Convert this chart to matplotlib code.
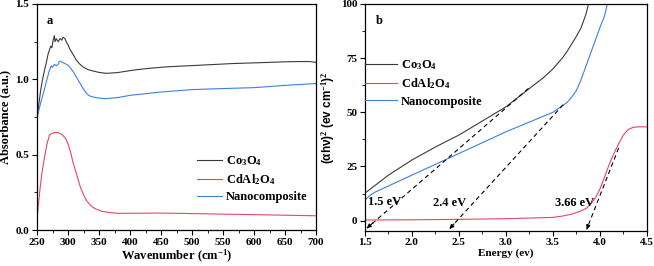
import matplotlib
matplotlib.use("Agg")
import matplotlib.pyplot as plt
from matplotlib.ticker import MultipleLocator

plt.rcParams['font.family'] = ['Liberation Serif', 'DejaVu Serif']
plt.rcParams['font.weight'] = 'bold'
plt.rcParams['mathtext.fontset'] = 'custom'
plt.rcParams['mathtext.rm'] = 'Liberation Serif:bold'
plt.rcParams['mathtext.it'] = 'Liberation Serif:bold'
plt.rcParams['mathtext.bf'] = 'Liberation Serif:bold'

# Panel a: absorbance vs wavenumber
wn_co = [250, 253, 256, 259, 262, 265, 268, 272, 274, 276, 278, 279, 281, 284, 287, 290, 292, 295, 297, 300, 303, 306, 309, 313, 318, 324, 332, 340, 350, 362, 380, 405, 430, 459, 513, 566, 620, 647, 670, 690, 701]
abs_co = [0.74, 0.84, 0.93, 1.0, 1.06, 1.11, 1.17, 1.22, 1.21, 1.26, 1.29, 1.25, 1.27, 1.25, 1.27, 1.26, 1.28, 1.27, 1.25, 1.23, 1.2, 1.18, 1.16, 1.13, 1.105, 1.083, 1.065, 1.056, 1.046, 1.04, 1.045, 1.061, 1.073, 1.083, 1.094, 1.105, 1.112, 1.116, 1.118, 1.118, 1.112]
wn_nano = [250, 255, 260, 266, 270, 273, 275, 278, 281, 284, 286, 288, 292, 295, 300, 305, 310, 315, 320, 325, 330, 335, 340, 350, 360, 380, 400, 450, 500, 550, 600, 650, 700]
abs_nano = [0.74, 0.83, 0.905, 1.0, 1.06, 1.09, 1.08, 1.1, 1.09, 1.1, 1.12, 1.12, 1.11, 1.105, 1.094, 1.07, 1.04, 1.005, 0.97, 0.935, 0.905, 0.89, 0.883, 0.876, 0.872, 0.879, 0.894, 0.916, 0.932, 0.939, 0.945, 0.96, 0.972]
wn_cd = [250, 252, 255, 258, 262, 266, 270, 275, 280, 285, 290, 296, 300, 304, 308, 312, 316, 320, 325, 330, 335, 340, 345, 355, 365, 380, 450, 550, 700]
abs_cd = [0.062, 0.16, 0.28, 0.38, 0.48, 0.57, 0.63, 0.643, 0.648, 0.645, 0.635, 0.61, 0.572, 0.52, 0.45, 0.395, 0.34, 0.284, 0.235, 0.195, 0.17, 0.151, 0.14, 0.124, 0.118, 0.111, 0.113, 0.106, 0.095]

# Panel b: Tauc plot
e_co = [1.5, 1.6, 1.75, 2.0, 2.25, 2.5, 2.75, 3.0, 3.25, 3.4, 3.5, 3.55, 3.6, 3.65, 3.7, 3.75, 3.8, 3.85, 3.88]
t_co = [12.7, 16, 21, 28, 34, 39.5, 46, 52.5, 61, 66, 70, 72.5, 75, 78, 81.5, 85, 89, 95, 100]
e_nano = [1.5, 1.55, 1.6, 1.8, 2.0, 2.25, 2.5, 2.75, 3.0, 3.25, 3.5, 3.55, 3.6, 3.65, 3.7, 3.75, 3.8, 3.85, 3.9, 3.95, 4.0, 4.05, 4.08]
t_nano = [9.5, 11.5, 13, 17, 21, 26, 31, 36, 41, 45.5, 50, 51.5, 53, 54.5, 57, 60, 65, 71, 77, 83, 89, 94.5, 100]
e_cd = [1.5, 2.0, 2.5, 3.0, 3.5, 3.6, 3.7, 3.8, 3.86, 3.92, 3.96, 4.0, 4.05, 4.1, 4.15, 4.2, 4.25, 4.3, 4.35, 4.4, 4.5]
t_cd = [0.3, 0.4, 0.6, 0.9, 1.5, 2.1, 3.0, 4.5, 5.8, 8.5, 11, 14.5, 20, 26, 31, 35.5, 39.5, 42, 43, 43.3, 43.3]

fit_lines = [((3.24, 61.0), (1.52, -3.5)),
             ((3.61, 53.5), (2.40, -3.8)),
             ((4.20, 33.5), (3.86, -4.0))]
gap_labels = ["1.5 eV", "2.4 eV", "3.66 eV"]
gap_label_pos = [(1.53, 8.5), (2.22, 8.0), (3.52, 8.0)]

labels = ["Co$_3$O$_4$", "CdAl$_2$O$_4$", "Nanocomposite"]
c_black = "#3a3a3a"
c_red = "#e8475f"
c_blue = "#3f80dc"

fig = plt.figure(figsize=(6.54, 2.66), dpi=100)
ax1 = fig.add_axes([0.0566, 0.135, 0.4266, 0.85])
ax2 = fig.add_axes([0.558, 0.133, 0.431, 0.852])

ax1.plot(wn_co, abs_co, color=c_black, lw=0.8, label=labels[0])
ax1.plot(wn_cd, abs_cd, color=c_red, lw=0.8, label=labels[1])
ax1.plot(wn_nano, abs_nano, color=c_blue, lw=0.8, label=labels[2])
ax1.set_xlim(250, 700)
ax1.set_ylim(0, 1.5)
ax1.xaxis.set_major_locator(MultipleLocator(50))
ax1.xaxis.set_minor_locator(MultipleLocator(25))
ax1.yaxis.set_major_locator(MultipleLocator(0.5))
ax1.yaxis.set_minor_locator(MultipleLocator(0.25))
ax1.set_xlabel("Wavenumber (cm$^{-1}$)", fontsize=9, fontweight='bold', labelpad=1)
ax1.set_ylabel("Absorbance (a.u.)", fontsize=9, fontweight='bold', labelpad=3)
ax1.text(0.035, 0.95, "a", transform=ax1.transAxes, fontsize=9, fontweight='bold', va='top')
ax1.legend(loc='lower right', bbox_to_anchor=(1.0, 0.08), frameon=False, fontsize=9,
           handlelength=2.0, handletextpad=0.3, labelspacing=0.35, borderpad=0.2)

ax2.plot(e_co, t_co, color=c_black, lw=0.8, label=labels[0])
ax2.plot(e_cd, t_cd, color=c_red, lw=0.8, label=labels[1])
ax2.plot(e_nano, t_nano, color=c_blue, lw=0.8, label=labels[2])
for (top, bot) in fit_lines:
    ax2.plot([top[0], bot[0]], [top[1], bot[1]], ls=(0, (4, 3)), color='k', lw=0.8)
    dx = bot[0] - top[0]
    dy = bot[1] - top[1]
    ax2.annotate("", xy=bot, xytext=(bot[0] - 0.04 * dx, bot[1] - 0.04 * dy),
                 arrowprops=dict(arrowstyle='-|>', color='k', lw=0.8, mutation_scale=6,
                                 shrinkA=0, shrinkB=0))
for t, (x, y) in zip(gap_labels, gap_label_pos):
    ax2.text(x, y, t, fontsize=9, fontweight='bold', va='center', ha='left')
ax2.set_xlim(1.5, 4.5)
ax2.set_ylim(-4.6, 100)
ax2.xaxis.set_major_locator(MultipleLocator(0.5))
ax2.xaxis.set_minor_locator(MultipleLocator(0.25))
ax2.yaxis.set_major_locator(MultipleLocator(25))
ax2.yaxis.set_minor_locator(MultipleLocator(12.5))
ax2.set_xlabel("Energy (ev)", fontsize=8, fontweight='bold', labelpad=1)
ax2.set_ylabel("(\u03b1h\u03bd)$^2$ (ev cm$^{-1}$)$^2$", fontsize=8.5, fontweight='bold',
               family=['Liberation Sans', 'DejaVu Sans'], labelpad=3)
ax2.text(0.04, 0.95, "b", transform=ax2.transAxes, fontsize=9, fontweight='bold', va='top')
ax2.legend(loc='upper left', bbox_to_anchor=(0.0, 0.76), frameon=False, fontsize=9,
           handlelength=2.6, handletextpad=0.3, labelspacing=0.35, borderpad=0.0, borderaxespad=0.0)

for ax in (ax1, ax2):
    ax.tick_params(which='major', direction='out', length=3.5, width=0.8, labelsize=8, pad=2)
    ax.tick_params(which='minor', direction='out', length=2, width=0.6)
    for s in ax.spines.values():
        s.set_linewidth(0.9)
    for lbl in ax.get_xticklabels() + ax.get_yticklabels():
        lbl.set_fontweight('bold')

fig.savefig("out.png", dpi=100)
